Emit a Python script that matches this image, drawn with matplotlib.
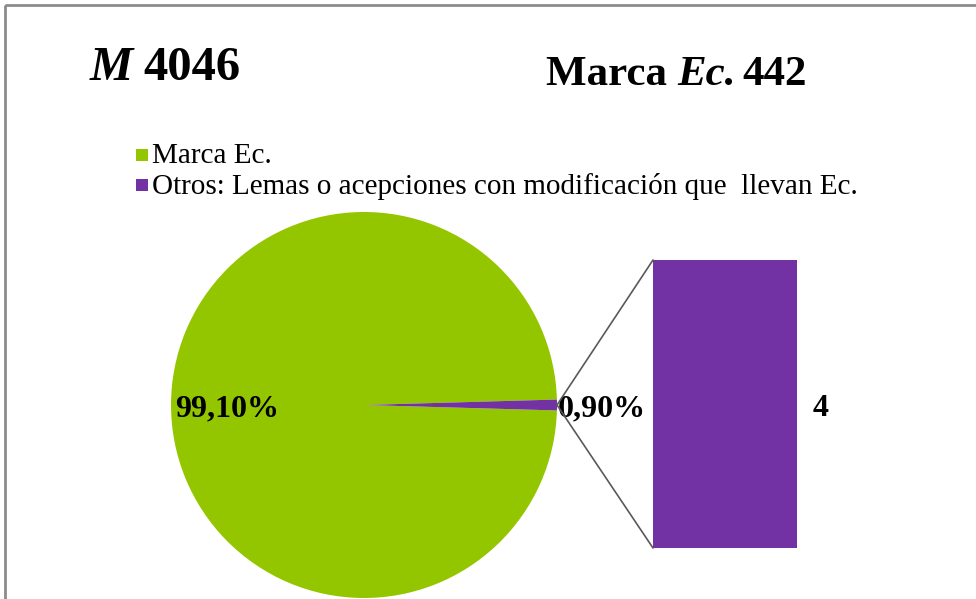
import matplotlib
matplotlib.use("Agg")
import matplotlib.pyplot as plt
from matplotlib.patches import ConnectionPatch, Rectangle
import numpy as np

categories = ["Marca Ec.", "Otros: Lemas o acepciones con modificación que  llevan Ec."]
pie_pcts = [99.10, 0.90]
pie_labels = ["99,10%", "0,90%"]
bar_value = [4]
bar_label = ["4"]
colors = ["#94C600", "#7232A4"]

W, H = 976, 599
fig = plt.figure(figsize=(W / 100, H / 100), dpi=100)
ax = fig.add_axes([0, 0, 1, 1])
ax.set_xlim(0, W)
ax.set_ylim(H, 0)
ax.set_aspect("equal")
ax.axis("off")

serif = "Liberation Serif"

# frame
ax.add_patch(Rectangle((5, 5), 2000, 2000, fill=False, edgecolor="#8c8c8c", lw=2))

fig.canvas.draw()
r = fig.canvas.get_renderer()


def seq(x, y, parts, size):
    for txt, italic, gap in parts:
        t = ax.text(x, y, txt, fontsize=size, fontweight="bold",
                    style="italic" if italic else "normal", family=serif,
                    ha="left", va="center")
        bb = t.get_window_extent(r)
        x = bb.x1 + gap


# titles
seq(90, 68, [("M", True, 10), ("4046", False, 0)], 35)
seq(546, 75, [("Marca ", False, 0), ("Ec.", True, 6), ("442", False, 0)], 31)

# legend
for i, (cat, c) in enumerate(zip(categories, colors)):
    y = 155 + 30 * i
    ax.add_patch(Rectangle((136, y - 6), 12, 12, facecolor=c, edgecolor="none"))
    ax.text(152, y + 1, cat, fontsize=21, family=serif, ha="left", va="center")

# pie
cx, cy, rad = 364, 405, 193
half = pie_pcts[1] / 100 * 360 / 2
wedges, _ = ax.pie(pie_pcts, colors=colors, center=(cx, cy), radius=rad,
                   startangle=half, counterclock=True, frame=True,
                   wedgeprops=dict(linewidth=0))
ax.set_xlim(0, W)
ax.set_ylim(H, 0)
ax.axis("off")

ax.text(227, 409, pie_labels[0], fontsize=23, fontweight="bold", family=serif,
        ha="center", va="center")
ax.text(602, 409, pie_labels[1], fontsize=23, fontweight="bold", family=serif,
        ha="center", va="center")

# bar of pie
bx0, by0, bx1, by1 = 653, 260, 797, 548
bax = fig.add_axes([bx0 / W, 1 - by1 / H, (bx1 - bx0) / W, (by1 - by0) / H])
bax.bar([0], bar_value, width=1.0, color=colors[1], edgecolor="none")
bax.set_xlim(-0.5, 0.5)
bax.set_ylim(0, bar_value[0])
bax.axis("off")
ax.text(821, 409, bar_label[0], fontsize=23, fontweight="bold", family=serif,
        ha="center", va="center")

# connector lines
edge = (cx + rad, cy)
for yy in (bar_value[0], 0):
    con = ConnectionPatch(xyA=edge, coordsA=ax.transData, xyB=(-0.5, yy), coordsB=bax.transData,
                          color="#595959", lw=1.2)
    fig.add_artist(con)

fig.savefig("out.png", dpi=100)
